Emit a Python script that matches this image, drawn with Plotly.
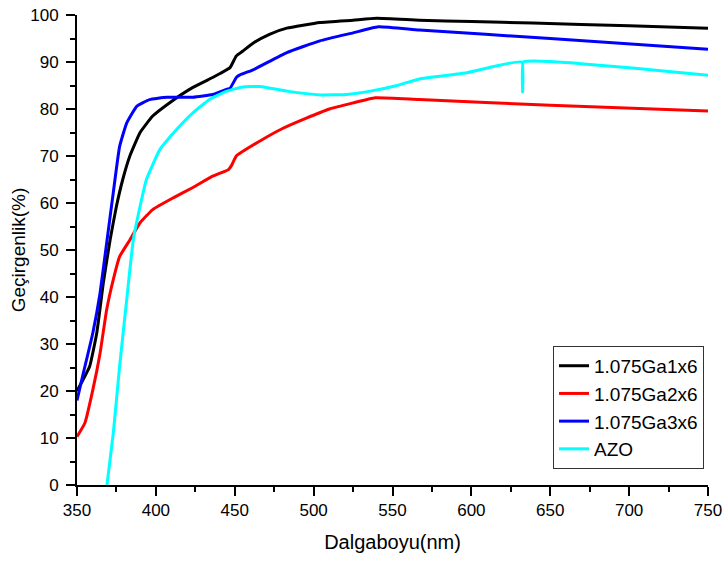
import plotly.graph_objects as go

# ---- data ----
black_x = [350, 354, 358, 362.5, 366.7, 371, 375, 379, 383.5, 390, 398, 409, 423.5, 436, 441, 447, 451, 455, 462, 472, 483, 504, 525, 540, 567, 600, 639, 700, 750]
black_y = [20, 22.5, 25.2, 32.3, 43, 52.2, 59.3, 65, 70, 75, 78.5, 81.4, 84.6, 86.7, 87.6, 88.8, 91.3, 92.3, 94.1, 95.9, 97.2, 98.4, 98.9, 99.3, 98.9, 98.6, 98.3, 97.7, 97.2]

red_x = [350, 355, 360, 364.6, 368.8, 373, 377, 383.6, 390, 398, 411, 423.5, 436, 446, 448, 451, 466, 480, 495, 510, 525, 539, 567, 650, 750]
red_y = [10.3, 13.2, 20.2, 28, 37.3, 43.7, 48.6, 52.2, 55.8, 58.6, 61.1, 63.3, 65.7, 67.1, 68, 70, 73.2, 75.8, 78, 80, 81.3, 82.4, 82, 80.8, 79.6]

blue_x = [350, 354, 360, 364.6, 368.8, 373, 377, 381.5, 388, 396, 407, 423.5, 436, 445, 447, 451, 453, 462, 483, 504, 525, 541, 567, 650, 750]
blue_y = [18, 23.8, 32.3, 40.8, 51.5, 62.2, 72, 77, 80.6, 82, 82.5, 82.5, 83.1, 84.2, 84.4, 86.7, 87.2, 88.4, 92, 94.5, 96.2, 97.5, 96.8, 95, 92.7]

azo_x = [369, 373, 377, 381.5, 385.7, 390, 394, 402.6, 413, 423.5, 434, 445, 455, 466, 483, 504, 521, 536, 553, 567, 597, 615, 632, 632.5, 633, 650, 671, 702, 750]
azo_y = [0, 11, 25.2, 39.4, 52.2, 59.3, 65, 71.4, 75.6, 79.2, 82, 83.8, 84.7, 84.8, 83.8, 83, 83.1, 83.8, 85, 86.4, 87.7, 89.1, 90, 83.6, 90, 90.1, 89.6, 88.7, 87.2]

series = [
    ("1.075Ga1x6", black_x, black_y, "#000000"),
    ("1.075Ga2x6", red_x, red_y, "#ff0000"),
    ("1.075Ga3x6", blue_x, blue_y, "#0000ff"),
    ("AZO", azo_x, azo_y, "#00ffff"),
]

x_ticks = [350, 400, 450, 500, 550, 600, 650, 700, 750]
y_ticks = [0, 10, 20, 30, 40, 50, 60, 70, 80, 90, 100]

fig = go.Figure()
for name, xs, ys, col in series:
    fig.add_trace(go.Scatter(x=xs, y=ys, mode="lines", name=name,
                             line=dict(color=col, width=3, shape="spline", smoothing=0.4)))

font = "Arial, Liberation Sans, sans-serif"
fig.update_layout(
    width=725, height=561,
    margin=dict(l=77, r=17, t=15, b=76),
    paper_bgcolor="white", plot_bgcolor="white",
    font=dict(family=font, color="#000000"),
    showlegend=True,
    legend=dict(x=0.9937, y=0.296, xanchor="right", yanchor="top",
                bgcolor="white", bordercolor="#333333", borderwidth=1,
                font=dict(size=19, family=font), tracegroupgap=0),
)
fig.update_xaxes(
    range=[350, 750], tickvals=x_ticks, ticks="outside", ticklen=9, tickwidth=1.5,
    tickcolor="black", showline=True, linecolor="black", linewidth=2, showgrid=False,
    zeroline=False, tickfont=dict(size=17, family=font), automargin=False,
    minor=dict(dtick=25, ticks="outside", ticklen=5, tickwidth=1.5, tickcolor="black", showgrid=False),
    title=dict(text="Dalgaboyu(nm)", font=dict(size=20, family=font), standoff=16),
)
fig.update_yaxes(
    range=[0, 100], tickvals=y_ticks, ticks="outside", ticklen=9, tickwidth=1.5,
    tickcolor="black", showline=True, linecolor="black", linewidth=2, showgrid=False,
    zeroline=False, tickfont=dict(size=17, family=font), automargin=False,
    ticklabelstandoff=4,
    minor=dict(dtick=5, ticks="outside", ticklen=5, tickwidth=1.5, tickcolor="black", showgrid=False),
    title=dict(text="Geçirgenlik(%)", font=dict(size=19, family=font), standoff=0),
)
fig.write_html("out.html")
